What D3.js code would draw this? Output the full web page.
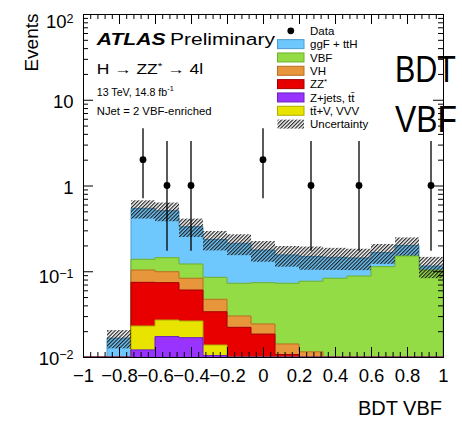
<!DOCTYPE html>
<html>
<head>
<meta charset="utf-8">
<script src="https://cdn.jsdelivr.net/npm/d3@7"></script>
<style>
  body { margin: 0; background: #fff; }
  svg { display: block; }
  text { font-family: "Liberation Sans", Arial, Helvetica, sans-serif; fill: #000; }
</style>
</head>
<body>
<svg id="chart" width="462" height="427"></svg>
<script>
// BDT VBF discriminant, NJet = 2 VBF-enriched category (15 uniform bins on [-1, 1])
const binEdges = [-1, -0.8667, -0.7333, -0.6, -0.4667, -0.3333, -0.2, -0.0667,
                  0.0667, 0.2, 0.3333, 0.4667, 0.6, 0.7333, 0.8667, 1];

// Expected yields per bin, one array per process
const zjets = [0, 0, 0.0121, 0.0173, 0.0168, 0.0104, 0, 0, 0, 0, 0, 0, 0, 0, 0];
const ttv   = [0, 0, 0.0109, 0.0097, 0.0095, 0.0034, 0, 0, 0, 0, 0, 0, 0, 0, 0];
const zz    = [0, 0, 0.0513, 0.0466, 0.0341, 0.0199, 0.0222, 0.0185, 0.0107, 0, 0, 0, 0, 0, 0];
const vh    = [0, 0, 0.0291, 0.0252, 0.0224, 0.0134, 0.0079, 0.0058, 0.0035, 0.0115, 0, 0, 0, 0, 0];
const vbf   = [0, 0, 0.0344, 0.0451, 0.0387, 0.0379, 0.0423, 0.0492, 0.0582, 0.065, 0.0828, 0.088, 0.113, 0.1507, 0.1034];
const ggf   = [0, 0.0166, 0.404, 0.364, 0.2095, 0.150, 0.1396, 0.1035, 0.0826, 0.0725, 0.0627, 0.055, 0.052, 0.0493, 0.0116];
// Total systematic uncertainty on the expectation (absolute)
const uncert = [0, 0.004, 0.13, 0.125, 0.08, 0.06, 0.058, 0.048, 0.042, 0.045, 0.042, 0.04, 0.043, 0.048, 0.032];

// Observed events and their Poisson intervals
const dataCounts = [0, 0, 2, 1, 1, 0, 0, 2, 0, 1, 0, 1, 0, 0, 1];
const dataLow    = [0, 0, 0.708, 0.173, 0.173, 0, 0, 0.708, 0, 0.173, 0, 0.173, 0, 0, 0.173];
const dataHigh   = [0, 0, 4.64, 3.30, 3.30, 0, 0, 4.64, 0, 3.30, 0, 3.30, 0, 0, 3.30];

// Axis ticks and labels
const xTicks = [-1, -0.8, -0.6, -0.4, -0.2, 0, 0.2, 0.4, 0.6, 0.8, 1];
const xTickLabels = ["\u22121", "\u22120.8", "\u22120.6", "\u22120.4", "\u22120.2", "0", "0.2", "0.4", "0.6", "0.8", "1"];
const yTicks = [0.01, 0.1, 1, 10, 100];
const yTickLabels = [["10", "\u22122"], ["10", "\u22121"], ["1", ""], ["10", ""], ["10", "2"]];

// Legend entries
const processKeys   = ["zjets", "ttv", "zz", "vh", "vbf", "ggf"];          // stacking order, bottom to top
const processNames  = { ggf: "ggF + ttH", vbf: "VBF", vh: "VH", zz: "ZZ*", zjets: "Z+jets, tt\u0304", ttv: "tt\u0304+V, VVV" };
const legendOrder   = ["ggf", "vbf", "vh", "zz", "zjets", "ttv"];
const fillColors    = { ggf: "#6ec8fd", vbf: "#94dc46", vh: "#e8963c", zz: "#e80000", zjets: "#9933ff", ttv: "#e8e400" };
const lineColors    = { ggf: "#4f9ccc", vbf: "#6fb02a", vh: "#b86e22", zz: "#a00000", zjets: "#6a1fbf", ttv: "#b0ad00" };

const svg = d3.select("#chart");
const X0 = 83, X1 = 443, Y0 = 14, Y1 = 357;

const x = d3.scaleLinear().domain([-1, 1]).range([X0, X1]);
const y = d3.scaleLog().domain([0.01, 100]).range([Y1, Y0]).clamp(true);
const yv = v => y(v > 0 ? v : 1e-4);

// hatch pattern for the uncertainty band
const defs = svg.append("defs");
defs.append("pattern")
  .attr("id", "hatch").attr("patternUnits", "userSpaceOnUse")
  .attr("width", 2.6).attr("height", 3)
  .attr("patternTransform", "rotate(45)")
  .append("line").attr("x1", 0.6).attr("y1", 0).attr("x2", 0.6).attr("y2", 3)
  .attr("stroke", "#1a1a1a").attr("stroke-width", 1.15);
defs.append("clipPath").attr("id", "plotArea")
  .append("rect").attr("x", X0).attr("y", Y0).attr("width", X1 - X0).attr("height", Y1 - Y0);

// stacked expectation
const rows = ggf.map((_, i) => ({ zjets: zjets[i], ttv: ttv[i], zz: zz[i], vh: vh[i], vbf: vbf[i], ggf: ggf[i] }));
const stacked = d3.stack().keys(processKeys)(rows);

const plot = svg.append("g").attr("clip-path", "url(#plotArea)");
const stepArea = d3.area()
  .curve(d3.curveStepAfter)
  .x(d => x(d.x))
  .y0(Y1 + 2)
  .y1(d => yv(d.v));

for (let L = stacked.length - 1; L >= 0; L--) {
  const layer = stacked[L];
  const key = layer.key;
  const pts = binEdges.map((e, i) => ({ x: e, v: layer[Math.min(i, layer.length - 1)][1] }));
  plot.append("path")
    .attr("d", stepArea(pts))
    .attr("fill", fillColors[key])
    .attr("stroke", lineColors[key])
    .attr("stroke-width", 1);
}

// uncertainty band around the total expectation
const totals = rows.map((_, i) => stacked[stacked.length - 1][i][1]);
plot.append("g").selectAll("rect")
  .data(totals.map((t, i) => ({ i, t, e: uncert[i] })).filter(d => d.t > 0))
  .join("rect")
  .attr("x", d => x(binEdges[d.i]))
  .attr("width", d => x(binEdges[d.i + 1]) - x(binEdges[d.i]))
  .attr("y", d => yv(d.t + d.e))
  .attr("height", d => yv(d.t - d.e) - yv(d.t + d.e))
  .attr("fill", "url(#hatch)");

// observed data
const dataPts = dataCounts.map((n, i) => ({ n, i, lo: dataLow[i], hi: dataHigh[i],
  cx: (binEdges[i] + binEdges[i + 1]) / 2 })).filter(d => d.n > 0);
const dg = svg.append("g");
dg.selectAll("line").data(dataPts).join("line")
  .attr("x1", d => x(d.cx)).attr("x2", d => x(d.cx))
  .attr("y1", d => y(d.hi)).attr("y2", d => y(d.lo))
  .attr("stroke", "#000").attr("stroke-width", 1.3);
dg.selectAll("circle").data(dataPts).join("circle")
  .attr("cx", d => x(d.cx)).attr("cy", d => y(d.n)).attr("r", 3.4).attr("fill", "#000");

// axes: ticks point into the frame on all four sides
const xMinor = d3.range(-1, 1.0001, 0.04).filter(v => Math.abs(v / 0.2 - Math.round(v / 0.2)) > 1e-6);
const yMinor = [];
[0.01, 0.1, 1, 10].forEach(dec => { for (let k = 2; k <= 9; k++) yMinor.push(dec * k); });

function styleAxis(g) {
  g.selectAll("path.domain").attr("stroke", "#000").attr("stroke-width", 1);
  g.selectAll(".tick line").attr("stroke", "#000").attr("stroke-width", 1);
}
const ax = svg.append("g");
ax.append("g").attr("transform", `translate(0,${Y1})`)
  .call(d3.axisBottom(x).tickValues(xMinor).tickSizeInner(-5).tickSizeOuter(0).tickFormat(""))
  .call(styleAxis);
const xb = ax.append("g").attr("transform", `translate(0,${Y1})`)
  .call(d3.axisBottom(x).tickValues(xTicks).tickSizeInner(-10).tickSizeOuter(0).tickPadding(11.5)
    .tickFormat((d, i) => xTickLabels[i]))
  .call(styleAxis);
xb.selectAll(".tick text").attr("font-size", 18.5).attr("fill", "#000")
  .style("font-family", "'Liberation Sans', Arial, sans-serif");

ax.append("g").attr("transform", `translate(0,${Y0})`)
  .call(d3.axisTop(x).tickValues(xMinor).tickSizeInner(-5).tickSizeOuter(0).tickFormat(""))
  .call(styleAxis);
ax.append("g").attr("transform", `translate(0,${Y0})`)
  .call(d3.axisTop(x).tickValues(xTicks).tickSizeInner(-10).tickSizeOuter(0).tickFormat(""))
  .call(styleAxis);

ax.append("g").attr("transform", `translate(${X0},0)`)
  .call(d3.axisLeft(y).tickValues(yMinor).tickSizeInner(-5).tickSizeOuter(0).tickFormat(""))
  .call(styleAxis);
ax.append("g").attr("transform", `translate(${X0},0)`)
  .call(d3.axisLeft(y).tickValues(yTicks).tickSizeInner(-10).tickSizeOuter(0).tickFormat(""))
  .call(styleAxis);
ax.append("g").attr("transform", `translate(${X1},0)`)
  .call(d3.axisRight(y).tickValues(yMinor).tickSizeInner(-5).tickSizeOuter(0).tickFormat(""))
  .call(styleAxis);
ax.append("g").attr("transform", `translate(${X1},0)`)
  .call(d3.axisRight(y).tickValues(yTicks).tickSizeInner(-10).tickSizeOuter(0).tickFormat(""))
  .call(styleAxis);

// y tick labels as powers of ten
const yLab = svg.append("g");
yTicks.forEach((v, i) => {
  const [base, exp] = yTickLabels[i];
  let shift = exp ? 12 : 8.7;
  if (v >= 100) shift = 14;
  if (v <= 0.01) shift = 7.5;
  const t = yLab.append("text").attr("x", 73.5).attr("y", y(v) + shift)
    .attr("text-anchor", "end").attr("font-size", 18.5);
  t.append("tspan").text(base);
  if (exp) t.append("tspan").attr("font-size", 12.5).attr("dy", -5.5).text(exp);
});

// axis titles
svg.append("text").attr("transform", `translate(38,13.5) rotate(-90)`)
  .attr("text-anchor", "end").attr("font-size", 19).text("Events");
svg.append("text").attr("x", 442).attr("y", 415).attr("text-anchor", "end")
  .attr("font-size", 20).text("BDT VBF");

// text squeezed or stretched horizontally to a given width
function fitted(px, py, size, width, build) {
  const t = svg.append("text").attr("font-size", size);
  build(t);
  const w = t.node().getComputedTextLength();
  t.attr("transform", `translate(${px},${py}) scale(${width / w},1)`);
  return t;
}

fitted(96.7, 45, 17, 69, t => t.attr("font-weight", "bold").attr("font-style", "italic").text("ATLAS"));
fitted(170, 45, 17, 105, t => t.text("Preliminary"));
fitted(96.7, 74.3, 14, 106.5, t => {
  t.append("tspan").text("H \u2192 ZZ");
  t.append("tspan").attr("font-size", 9.5).attr("dy", -5).text("*");
  t.append("tspan").attr("dy", 5).text(" \u2192 4l");
});
fitted(96.7, 95.5, 11, 77, t => {
  t.append("tspan").text("13 TeV, 14.8 fb");
  t.append("tspan").attr("font-size", 7.5).attr("dy", -4.5).text("-1");
});
fitted(96.7, 114.5, 11, 115, t => t.text("NJet = 2 VBF-enriched"));

// legend
const lg = svg.append("g");
const rowY = k => 30.8 + 13.33 * k;
lg.append("circle").attr("cx", 290.8).attr("cy", rowY(0)).attr("r", 3.4).attr("fill", "#000");
lg.append("text").attr("x", 310).attr("y", rowY(0) + 4.2).attr("font-size", 11.5).text("Data");
legendOrder.forEach((key, j) => {
  const cy = rowY(j + 1);
  lg.append("rect").attr("x", 277.5).attr("y", cy - 4.5).attr("width", 26.5).attr("height", 9)
    .attr("fill", fillColors[key]).attr("stroke", lineColors[key]).attr("stroke-width", 1);
  const t = lg.append("text").attr("x", 310).attr("y", cy + 4.2).attr("font-size", 11.5);
  if (key === "zz") {
    t.append("tspan").text("ZZ");
    t.append("tspan").attr("font-size", 8).attr("dy", -4).text("*");
  } else {
    t.text(processNames[key]);
  }
});
const uy = rowY(7);
lg.append("rect").attr("x", 277.5).attr("y", uy - 4.5).attr("width", 26.5).attr("height", 9)
  .attr("fill", "url(#hatch)");
lg.append("text").attr("x", 310).attr("y", uy + 4.2).attr("font-size", 11.5).text("Uncertainty");

// large variable name at the right
fitted(395, 81.7, 37, 61, t => t.text("BDT"));
fitted(395, 132.3, 37, 62, t => t.text("VBF"));
</script>
</body>
</html>
